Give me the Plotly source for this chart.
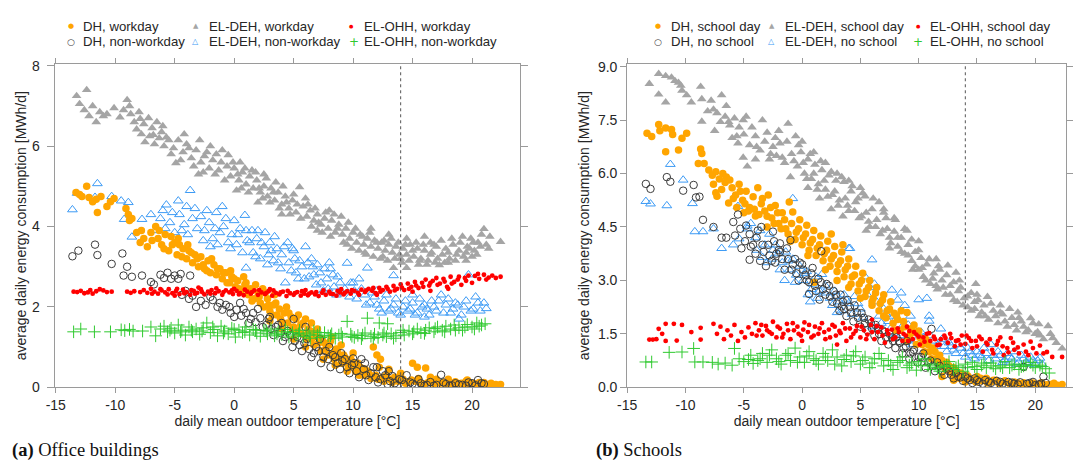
import plotly.graph_objects as go

W, H = 1073, 469

# ---------------- data: (daily mean outdoor temperature [°C], MWh/d) ----------------
# (a) Office buildings
office_dh_work = [(-13.3,4.85),(-13.0,4.8),(-12.4,5.0),(-12.8,4.75),(-12.2,4.72),(-11.9,4.62),(-11.5,4.35),(-11.2,4.75),
    (-11.6,4.68),(-10.7,4.5),(-10.4,4.62),(-10.1,4.7),(-9.1,4.45),(-8.9,4.3),(-8.6,4.2),(-8.8,4.15),(-8.2,3.85),(-7.9,3.6),
    (-7.6,3.7),(-7.3,3.5),(-6.9,3.65),(-6.6,4.0),(-6.3,3.9),(-6.1,3.55),(-5.8,3.8),(-5.5,3.4),(-5.3,3.75),(-5.0,3.6),(-4.8,3.3),
    (-4.6,3.55),(-4.3,3.45),(-4.0,3.2),(-3.8,3.4),(-3.5,3.1),(-3.3,3.3),(-3.0,3.0),(-2.8,3.25),(-2.5,2.95),(-2.2,3.15),(-2.0,2.85),
    (-1.7,3.05),(-1.5,2.8),(-1.2,2.95),(-1.0,2.7),(-0.7,2.85),(-0.4,2.6),(-0.2,2.75),(0.1,2.5),(0.3,2.65),(0.6,2.4),(0.9,2.55),
    (1.2,2.3),(1.4,2.45),(1.7,2.2),(2.0,2.35),(2.2,2.1),(2.5,2.0),(2.8,2.2),(3.0,1.9),(3.3,2.05),(3.6,1.8),(3.9,1.7),(4.2,1.85),
    (4.5,1.6),(4.8,1.75),(5.0,1.5),(5.3,1.4),(5.6,1.55),(5.9,1.3),(6.2,1.45),(6.5,1.2),(6.8,1.3),(7.1,1.1),(7.4,1.2),(7.7,0.95),
    (8.0,1.05),(8.3,0.85),(8.6,0.95),(8.9,0.75),(9.2,0.8),(9.5,0.6),(9.8,0.7),(10.1,0.5),(10.4,0.6),(10.7,0.4),(11.0,0.45),
    (11.3,0.35),(11.7,1.0),(12.0,0.8),(12.3,0.7),(11.9,0.3),(12.5,0.25),(12.8,0.3),(13.1,0.2),(13.5,0.25),(13.8,0.15),(14.2,0.2),
    (14.6,0.12),(15.0,0.6),(15.4,0.5),(16.1,0.48),(15.2,0.15),(15.7,0.1),(16.3,0.12),(16.8,0.08),(17.3,0.1),(17.8,0.07),
    (18.3,0.09),(18.8,0.06),(19.3,0.08),(19.8,0.05),(20.3,0.07),(20.8,0.05),(21.3,0.06),(21.8,0.05),(22.4,0.07),
    (1.0,2.6),(2.4,2.45),(3.4,2.3),(4.4,2.0),(5.4,1.8),(6.0,1.7),(7.0,1.45),(8.2,1.25),(9.0,1.05),(10.0,0.85),(6.5,1.6),
    (3.0,1.65),(4.0,1.45),(5.0,1.2),(6.0,1.0),(7.5,0.7),(8.5,0.55),(9.5,0.4),(10.5,0.3),(11.5,0.22),(12.2,0.5),(13.0,0.45),
    (14.0,0.35),(16.5,0.25),(18.0,0.2),(19.5,0.15),(21.0,0.12),
    (-7.8,3.9),(-7.0,3.85),(-6.4,3.7),(-5.9,3.45),(-5.2,3.55),(-4.7,3.7),(-4.4,3.25),(-3.9,3.55),(-3.6,3.35),(-3.1,3.2),
    (-2.6,3.05),(-2.3,2.9),(-1.9,3.2),(-1.4,2.95),(-0.9,2.85),(-0.6,2.6),(-0.3,2.9),(0.0,2.7),(0.4,2.45),(0.8,2.75),(1.1,2.45),
    (1.5,2.15),(1.8,2.55),(2.1,2.25),(2.6,2.35),(2.9,2.05),(3.2,1.8),(3.5,2.1),(3.8,1.95),(4.1,1.6),(4.6,1.85),(4.9,1.45),
    (5.2,1.7),(5.5,1.35),(5.8,1.6),(6.1,1.2),(6.4,1.4),(6.7,1.05),(7.0,1.25),(7.3,0.9),(7.6,1.1),(7.9,0.8),(8.1,1.15),(8.4,0.7),
    (8.7,0.9),(9.0,0.6),(9.3,0.75),(9.6,0.5),(9.9,0.65),(10.2,0.4),(10.6,0.5),(10.9,0.3),(11.2,0.4),(11.6,0.28),(12.1,0.2),
    (12.6,0.15),(13.3,0.12),(13.9,0.25),(14.4,0.1),(14.9,0.18),(15.5,0.22),(16.0,0.08),(16.6,0.14),(17.0,0.2),(17.6,0.12),
    (18.1,0.06),(18.6,0.14),(19.1,0.1),(19.6,0.18),(20.1,0.1),(20.6,0.12),(21.1,0.08),(21.6,0.1),(22.0,0.07)]

office_dh_nonwork = [(-13.6,3.26),(-13.1,3.4),(-11.7,3.55),(-11.5,3.29),(-10.3,3.07),(-9.4,3.33),(-9.0,3.0),(-9.3,2.78),
    (-8.6,2.75),(-7.75,2.78),(-6.75,2.56),(-7.0,2.62),(-6.2,2.8),(-5.9,2.72),(-5.6,2.85),(-5.3,2.7),(-5.0,2.78),(-4.7,2.7),
    (-4.5,2.82),(-3.7,2.78),(-4.4,2.3),(-4.1,2.4),(-3.8,2.2),(-3.5,2.28),(-3.2,2.0),(-2.8,2.15),(-2.4,2.05),(-1.8,2.17),
    (-1.4,2.0),(-1.0,1.93),(-0.7,2.05),(-0.3,1.85),(0.2,1.93),(0.6,1.78),(1.0,1.85),(1.4,1.7),(1.8,1.62),(2.2,1.72),(2.7,1.55),
    (3.1,1.45),(3.5,1.5),(3.9,1.35),(4.3,1.25),(4.7,1.3),(5.1,1.15),(5.5,1.05),(5.9,1.1),(6.3,0.95),(6.7,0.85),(7.1,0.9),
    (7.5,0.75),(7.9,0.7),(8.3,0.8),(8.7,0.6),(9.1,0.65),(9.5,0.5),(9.9,0.55),(10.3,0.4),(10.7,0.7),(11.1,0.3),(11.5,0.35),
    (11.9,0.25),(12.3,0.2),(12.7,0.3),(13.1,0.15),(13.5,0.1),(13.9,0.2),(14.3,0.07),(14.8,0.12),(15.2,0.05),(15.7,0.1),
    (16.2,0.06),(16.8,0.04),(17.4,0.31),(17.8,0.08),(18.3,0.05),(18.9,0.07),(19.5,0.04),(20.0,0.1),(20.5,0.18),(21.0,0.08),
    (5.0,1.7),(6.0,1.5),(7.2,1.2),(8.0,1.0),(9.0,0.85),(10.0,0.72),(11.0,0.6),(12.0,0.5),(13.0,0.4),(2.0,1.95),(0.5,2.1),
    (3.0,1.75),(4.0,1.6),
    (-2.0,2.25),(-1.2,2.1),(-0.4,2.0),(0.0,1.75),(0.8,1.95),(1.2,1.6),(1.6,1.85),(2.4,1.5),(2.9,1.7),(3.3,1.3),(3.7,1.55),
    (4.1,1.15),(4.5,1.4),(4.9,1.0),(5.3,1.25),(5.7,0.9),(6.1,1.2),(6.5,0.75),(6.9,1.0),(7.3,0.6),(7.7,0.9),(8.1,0.5),(8.5,0.75),
    (8.9,0.45),(9.3,0.7),(9.7,0.35),(10.1,0.6),(10.5,0.25),(10.9,0.45),(11.3,0.18),(11.7,0.5),(12.1,0.12),(12.5,0.4),
    (12.9,0.08),(13.3,0.28),(13.7,0.05),(14.1,0.18),(14.5,0.3),(15.0,0.09),(15.5,0.2),(16.0,0.04),(16.5,0.13),(17.0,0.06),
    (17.6,0.12),(18.1,0.04),(18.6,0.1),(19.2,0.06),(19.7,0.12),(20.3,0.05),(20.8,0.1)]

office_el_deh_work = [(-13.25,7.25),(-12.4,7.4),(-13.0,7.05),(-12.6,6.9),(-12.2,6.75),(-11.9,7.0),(-11.6,6.6),(-11.3,6.85),
    (-11.0,6.75),(-10.7,6.8),(-10.1,6.95),(-9.0,7.15),(-8.8,7.0),(-8.7,6.8),(-8.4,6.6),(-8.0,6.85),(-7.6,6.55),(-7.2,6.7),
    (-6.9,6.45),(-6.5,6.6),(-6.1,6.35),(-7.8,6.3),(-7.5,6.1),(-7.1,6.25),(-6.7,6.05),(-6.3,6.2),(-5.9,6.0),(-5.5,6.15),
    (-5.1,5.95),(-4.9,5.58),(-4.7,6.15),(-4.3,5.85),(-4.0,6.05),(-3.6,5.7),(-3.2,5.9),(-2.8,5.6),(-2.5,5.75),(-2.1,5.45),
    (-1.8,5.65),(-1.3,5.4),(-1.0,5.9),(-0.6,5.5),(-0.3,5.25),(0.0,5.45),(0.4,5.15),(0.7,5.35),(1.0,5.05),(1.3,5.25),(1.6,4.95),
    (1.9,5.15),(2.2,4.85),(2.5,5.0),(2.8,4.75),(3.1,4.95),(3.4,4.65),(3.7,4.85),(4.0,4.55),(4.3,4.75),(4.6,4.45),(4.9,4.65),
    (5.5,4.98),(5.2,4.35),(5.8,4.5),(6.1,4.25),(6.4,4.4),(6.7,4.15),(7.0,4.3),(7.3,4.05),(7.6,4.2),(7.9,3.95),(8.2,4.15),
    (8.5,3.85),(8.8,4.05),(9.1,3.8),(9.4,3.95),(9.7,3.7),(10.0,3.85),(10.3,3.6),(10.6,3.8),(10.9,3.55),(11.2,3.7),(11.5,3.5),
    (11.8,3.65),(12.1,3.45),(12.4,3.6),(12.7,3.4),(13.0,3.55),(13.4,2.97),(13.3,3.35),(13.6,3.5),(13.9,3.3),(14.2,3.45),
    (14.5,2.97),(14.5,3.3),(14.8,3.55),(15.1,3.25),(15.4,3.45),(15.7,3.2),(16.0,3.4),(16.3,3.15),(16.6,3.35),(16.9,3.1),
    (17.25,3.04),(17.5,3.3),(17.8,3.45),(18.1,3.2),(18.4,3.55),(18.7,3.3),(19.0,3.6),(19.3,3.25),(19.6,3.5),(19.9,3.7),
    (20.2,3.4),(20.5,3.6),(20.8,3.8),(21.0,3.94),(21.2,3.55),(21.5,3.75),(22.4,3.62),
    (-2.0,6.0),(-1.5,5.8),(0.5,5.6),(1.5,5.4),(2.5,5.3),(3.5,5.1),(-3.0,5.3),(0.2,4.9),(2.0,4.6),(4.0,4.3),(6.0,4.7),(8.0,4.4),
    (9.0,4.25),(7.0,3.9),(9.5,3.55),(11.0,3.35),(12.5,3.25),(14.0,3.2),(15.5,3.05),(16.5,3.6),(18.0,3.1),(11.5,3.95),
    (13.0,3.8),(14.5,3.7),(16.0,3.75),(17.0,3.5),(19.5,3.35),(20.0,3.25),
    (-9.6,6.72),(-9.3,6.9),(-8.2,6.42),(-7.9,6.68),(-6.8,6.28),(-6.0,6.5),(-5.7,6.22),(-5.3,5.8),(-4.5,5.65),(-4.2,6.3),
    (-3.8,5.95),(-3.4,5.5),(-2.9,6.15),(-2.6,5.35),(-2.3,5.85),(-1.6,5.3),(-1.1,5.6),(-0.8,5.15),(-0.5,5.78),(-0.1,5.6),
    (0.3,5.3),(0.6,4.95),(0.9,5.45),(1.2,4.85),(1.8,5.35),(2.1,4.95),(2.4,4.7),(2.7,5.2),(3.0,4.6),(3.3,4.85),(3.8,4.45),
    (4.1,5.0),(4.4,4.6),(4.7,4.3),(5.0,4.8),(5.3,4.55),(5.6,4.2),(6.2,4.55),(6.5,4.0),(6.8,4.45),(7.1,4.1),(7.4,3.85),(7.7,4.35),
    (8.1,3.75),(8.4,4.3),(8.7,3.95),(9.2,3.6),(9.6,4.1),(9.9,3.45),(10.2,3.95),(10.5,3.4),(10.8,3.75),(11.1,3.3),(11.4,3.85),
    (11.7,3.25),(12.0,3.6),(12.3,3.2),(12.6,3.65),(12.9,3.15),(13.2,3.7),(13.5,3.2),(13.8,3.6),(14.1,3.1),(14.4,3.55),
    (14.7,3.15),(15.0,3.4),(15.3,3.6),(15.6,3.15),(15.9,3.55),(16.2,3.05),(16.5,3.3),(16.8,3.55),(17.1,3.2),(17.4,3.65),
    (17.7,3.1),(18.0,3.35),(18.3,3.7),(18.6,3.15),(18.9,3.4),(19.2,3.75),(19.5,3.15),(19.8,3.45),(20.1,3.6),(20.4,3.3),
    (20.7,3.5),(21.4,3.45)]

office_el_deh_nonwork = [(-13.6,4.42),(-13.2,4.83),(-11.5,5.07),(-11.7,4.73),(-10.3,4.75),(-9.5,4.64),(-8.9,4.6),(-9.25,4.18),
    (-8.6,3.74),(-7.75,4.18),(-5.7,4.54),(-4.7,4.64),(-3.7,4.9),(-6.2,4.2),(-5.8,3.95),(-5.4,4.1),(-5.0,3.85),(-4.6,4.3),
    (-4.2,4.05),(-3.9,3.8),(-3.5,4.2),(-3.1,3.95),(-2.8,4.25),(-2.5,3.9),(-2.1,4.1),(-1.8,3.7),(-1.5,4.35),(-1.2,3.85),
    (-0.9,4.0),(-0.5,3.6),(-0.2,3.8),(0.2,3.55),(0.5,3.95),(0.9,4.28),(1.0,2.97),(1.3,3.6),(1.6,3.35),(1.9,3.7),(2.2,3.2),
    (2.5,3.5),(2.8,3.05),(3.1,3.4),(3.4,3.75),(3.7,3.1),(4.0,3.3),(4.3,2.6),(4.5,3.6),(4.8,2.9),(5.1,3.2),(5.4,2.7),(5.7,3.0),
    (6.0,3.5),(6.3,2.75),(6.6,3.0),(6.9,2.55),(7.2,2.85),(7.5,2.4),(7.8,2.7),(8.1,2.95),(8.4,2.5),(8.7,2.75),(9.0,2.35),
    (9.5,3.09),(9.8,2.6),(10.1,2.4),(10.5,2.7),(11.2,2.97),(11.0,2.3),(11.4,2.1),(11.8,2.25),(12.2,1.95),(12.6,2.15),(13.0,1.9),
    (13.4,2.78),(13.4,2.05),(13.8,1.85),(14.2,2.0),(14.6,1.9),(15.0,2.1),(15.4,1.85),(15.8,2.0),(16.2,1.95),(16.6,2.15),
    (17.0,1.9),(17.4,2.3),(17.8,2.05),(18.2,1.85),(18.6,2.1),(18.9,1.7),(19.3,2.0),(19.7,2.8),(20.1,1.95),(20.5,2.1),(21.0,2.1),
    (21.2,1.96),(-7.0,4.3),(-6.5,3.9),(-2.0,3.5),(0.0,4.15),(2.0,3.9),(3.0,3.6),(5.0,3.4),(6.5,3.2),(8.0,3.1),(-4.0,4.5),
    (-1.0,4.5),(1.0,3.9),(12.0,2.4),(15.0,2.3),(16.0,1.75),
    (-6.0,4.4),(-5.2,4.35),(-4.4,3.9),(-3.3,4.45),(-2.6,3.65),(-2.3,4.4),(-1.6,3.95),(-1.4,3.55),(-0.7,4.2),(-0.3,3.45),
    (0.3,3.8),(0.7,3.35),(1.1,3.65),(1.5,3.9),(1.8,3.25),(2.3,3.6),(2.6,3.85),(2.9,3.3),(3.3,3.15),(3.6,3.45),(3.9,2.95),
    (4.2,3.5),(4.6,3.1),(4.9,3.45),(5.2,2.85),(5.5,3.15),(5.9,2.7),(6.2,3.1),(6.7,2.8),(7.0,3.05),(7.3,2.6),(7.6,2.95),
    (7.9,2.45),(8.3,2.8),(8.6,2.3),(8.9,2.6),(9.3,2.45),(9.7,2.25),(10.0,2.6),(10.3,2.2),(10.7,2.45),(11.1,2.05),(11.6,2.35),
    (12.0,2.05),(12.4,1.85),(12.8,2.3),(13.2,1.95),(13.6,2.2),(14.0,1.8),(14.4,2.15),(14.8,1.95),(15.2,1.8),(15.6,2.2),
    (16.0,2.05),(16.4,1.8),(16.8,2.0),(17.2,2.15),(17.6,1.85),(18.0,2.2),(18.4,1.95),(18.8,2.05),(19.1,1.8),(19.5,2.15),
    (19.9,1.9),(20.3,2.25),(20.7,1.9)]

office_el_ohh_work = [(-13.5,2.38),(-13.2,2.37),(-12.9,2.4),(-12.6,2.34),(-12.3,2.36),(-12.1,2.42),(-11.9,2.33),(-11.6,2.39),
    (-11.3,2.44),(-11.0,2.41),(-10.7,2.37),(-10.3,2.38),(-9.0,2.38),(-8.7,2.35),(-8.4,2.39),(-7.9,2.37),(-7.6,2.42),(-7.3,2.35),
    (-7.0,2.45),(-6.7,2.38),(-6.4,2.33),(-6.1,2.41),(-5.8,2.36),(-5.5,2.44),(-5.2,2.34),(-4.9,2.39),(-4.6,2.32),(-4.3,2.43),
    (-4.0,2.37),(-3.7,2.3),(-3.4,2.4),(-3.1,2.35),(-2.8,2.44),(-2.5,2.31),(-2.2,2.38),(-1.9,2.42),(-1.6,2.34),(-1.3,2.39),
    (-1.0,2.3),(-0.7,2.41),(-0.4,2.36),(-0.1,2.32),(0.2,2.4),(0.5,2.34),(0.8,2.29),(1.1,2.38),(1.4,2.33),(1.7,2.41),(2.0,2.3),
    (2.3,2.36),(2.6,2.32),(2.9,2.39),(3.2,2.28),(3.5,2.35),(3.8,2.31),(4.1,2.38),(4.4,2.27),(4.7,2.34),(5.0,2.3),(5.3,2.37),
    (5.6,2.28),(5.9,2.33),(6.2,2.29),(6.5,2.36),(6.8,2.31),(7.1,2.27),(7.4,2.35),(7.7,2.3),(8.0,2.38),(8.3,2.32),(8.6,2.28),
    (8.9,2.36),(9.2,2.31),(9.5,2.39),(9.8,2.33),(10.1,2.4),(10.4,2.35),(10.7,2.43),(11.0,2.37),(11.3,2.45),(11.6,2.4),
    (11.9,2.34),(12.2,2.47),(12.5,2.42),(12.8,2.5),(13.1,2.38),(13.4,2.52),(13.7,2.45),(14.0,2.56),(14.3,2.42),(14.6,2.58),
    (14.9,2.5),(15.2,2.62),(15.5,2.47),(15.8,2.6),(16.1,2.68),(16.4,2.53),(16.7,2.65),(17.0,2.72),(17.3,2.58),(17.6,2.7),
    (17.9,2.5),(18.2,2.75),(18.5,2.62),(18.8,2.68),(19.1,2.55),(19.4,2.72),(19.7,2.78),(20.0,2.6),(20.25,2.77),(20.6,2.7),
    (21.0,2.8),(21.4,2.73),(22.4,2.75),(-5.0,2.28),(-3.0,2.48),(0.0,2.45),(3.0,2.44),(6.0,2.42),(9.0,2.44),(12.0,2.3),
    (15.0,2.38),(16.5,2.4),(18.0,2.45),
    (-6.9,2.33),(-6.2,2.44),(-5.6,2.31),(-4.8,2.45),(-4.2,2.34),(-3.6,2.42),(-3.3,2.33),(-2.7,2.37),(-2.0,2.33),(-1.5,2.46),
    (-0.9,2.37),(-0.2,2.41),(0.4,2.31),(0.9,2.43),(1.5,2.37),(2.1,2.42),(2.7,2.35),(3.3,2.41),(3.9,2.36),(4.5,2.4),(5.1,2.34),
    (5.7,2.39),(6.3,2.33),(6.9,2.37),(7.5,2.41),(8.1,2.33),(8.7,2.4),(9.3,2.35),(9.9,2.42),(10.5,2.3),(11.1,2.41),(11.7,2.47),
    (12.3,2.38),(12.9,2.45),(13.5,2.41),(14.1,2.48),(14.7,2.45),(15.3,2.53),(15.9,2.5),(16.5,2.6),(17.1,2.55),(17.7,2.63),
    (18.3,2.58),(18.9,2.75),(19.5,2.65),(20.5,2.82),(21.2,2.68),(21.7,2.78),(22.0,2.72)]

office_el_ohh_nonwork = [(-13.5,1.38),(-12.9,1.45),(-11.75,1.38),(-10.4,1.38),(-9.5,1.43),(-9.2,1.41),(-8.8,1.44),(-8.5,1.4),
    (-7.7,1.4),(-7.0,1.5),(-6.6,1.28),(-6.2,1.45),(-5.9,1.52),(-5.6,1.38),(-5.3,1.47),(-5.0,1.35),(-4.7,1.55),(-4.4,1.42),
    (-4.1,1.3),(-3.8,1.5),(-3.5,1.38),(-3.2,1.45),(-2.9,1.32),(-2.6,1.48),(-2.3,1.6),(-2.0,1.36),(-1.7,1.44),(-1.4,1.28),
    (-1.1,1.52),(-0.8,1.4),(-0.5,1.33),(-0.2,1.47),(0.1,1.25),(0.4,1.42),(0.7,1.36),(1.0,1.5),(1.3,1.3),(1.6,1.44),(1.9,1.35),
    (2.2,1.27),(2.5,1.42),(2.8,1.33),(3.1,1.45),(3.4,1.28),(3.7,1.38),(4.0,1.31),(4.3,1.44),(4.6,1.25),(4.9,1.36),(5.2,1.3),
    (5.5,1.42),(5.8,1.26),(6.1,1.35),(6.4,1.22),(6.7,1.4),(7.0,1.3),(7.3,1.24),(7.6,1.36),(7.9,1.28),(8.2,1.33),(8.5,1.22),
    (8.8,1.3),(9.1,1.25),(9.5,1.64),(9.8,1.32),(10.1,1.24),(10.4,1.29),(10.7,1.21),(11.0,1.35),(11.2,1.72),(11.5,1.27),
    (11.8,1.32),(12.2,1.6),(12.1,1.24),(12.5,1.3),(12.9,1.58),(12.8,1.26),(13.2,1.33),(13.6,1.28),(14.0,1.36),(14.3,1.3),
    (14.7,1.4),(15.0,1.33),(15.4,1.45),(15.7,1.36),(16.1,1.42),(16.4,1.48),(16.8,1.38),(17.1,1.5),(17.5,1.42),(17.8,1.52),
    (18.2,1.45),(18.5,1.55),(18.9,1.48),(19.2,1.42),(19.6,1.56),(20.0,1.5),(20.4,1.6),(20.8,1.55),(21.1,1.58),
    (-5.4,1.42),(-4.5,1.38),(-3.6,1.42),(-2.7,1.4),(-1.8,1.5),(-0.9,1.35),(0.0,1.44),(0.9,1.38),(1.8,1.42),(2.7,1.4),
    (3.6,1.33),(4.5,1.38),(5.4,1.33),(6.3,1.3),(7.2,1.36),(8.1,1.28),(9.0,1.34),(9.9,1.27),(10.8,1.3),(11.7,1.22),(12.6,1.35),
    (13.4,1.22),(14.2,1.42),(15.1,1.38),(16.0,1.34),(16.9,1.46),(17.7,1.38),(18.6,1.42),(19.4,1.5),(20.2,1.45),(20.6,1.52)]

# (b) Schools
school_dh_day = [(-13.3,7.13),(-12.9,7.04),(-12.3,7.38),(-12.2,7.2),(-11.7,7.28),(-11.2,7.24),(-11.1,7.1),(-10.3,6.99),
    (-9.9,7.13),(-11.7,6.61),(-10.6,6.66),(-8.7,6.69),(-8.6,6.56),(-8.9,6.28),(-8.4,6.28),(-8.0,6.1),(-7.7,5.95),(-7.4,6.05),
    (-7.1,5.85),(-6.8,6.0),(-6.5,5.9),(-6.2,5.82),(-7.4,5.46),(-7.3,5.36),(-6.3,5.17),(-6.0,5.6),(-5.7,5.4),(-5.4,5.7),
    (-5.1,5.25),(-4.8,5.5),(-4.5,5.05),(-4.2,5.35),(-4.0,4.81),(-3.8,5.6),(-3.5,5.15),(-3.2,4.95),(-2.9,5.4),(-2.6,4.75),
    (-2.3,5.1),(-2.0,4.6),(-1.7,4.9),(-1.4,4.45),(-1.1,5.2),(-0.8,4.92),(-0.5,4.35),(-0.2,4.7),(0.1,4.2),(0.4,4.55),(0.7,4.05),
    (1.0,4.4),(1.3,3.9),(1.6,4.25),(1.9,3.75),(2.2,4.1),(2.5,3.6),(2.8,3.95),(3.1,3.45),(3.4,3.8),(3.7,3.3),(4.0,3.6),(4.3,3.1),
    (4.6,3.4),(4.9,2.9),(5.2,3.2),(5.5,2.7),(5.8,3.0),(6.1,2.5),(6.4,2.8),(6.7,2.35),(7.0,2.6),(7.3,2.15),(7.6,2.4),(7.9,2.08),
    (8.2,1.9),(8.5,2.15),(8.8,1.7),(9.0,2.1),(9.3,1.5),(9.6,1.75),(10.0,1.58),(10.3,1.2),(10.6,1.35),(10.9,1.0),(11.2,1.1),
    (11.5,0.8),(11.8,0.9),(12.1,0.6),(12.4,0.7),(12.7,0.45),(13.0,0.55),(13.3,0.35),(13.6,0.4),(13.9,0.28),(14.2,0.32),
    (14.6,0.22),(15.0,0.3),(15.4,0.18),(15.8,0.25),(16.2,0.15),(16.6,0.2),(17.0,0.13),(17.4,0.18),(17.8,0.1),(18.2,0.15),
    (18.6,0.1),(19.0,0.13),(19.4,0.08),(19.8,0.12),(20.2,0.08),(20.6,0.1),(21.0,0.07),(21.6,0.11),(22.3,0.08),(1.05,2.95),
    (2.0,3.3),(3.0,3.0),(4.0,2.8),(5.0,2.5),(6.0,2.3),(7.0,2.0),(8.0,1.6),(9.0,1.3),(-3.0,4.5),(-1.0,4.1),(0.5,3.7),(2.5,4.3),
    (3.5,4.0),(-5.0,4.9),(12.0,0.3),(13.0,0.2),(14.0,0.15),
    (-7.6,5.7),(-6.9,5.55),(-6.6,5.75),(-5.9,5.3),(-5.6,5.05),(-5.3,5.5),(-4.9,5.15),(-4.6,4.95),(-4.1,5.0),(-3.7,4.85),
    (-3.4,5.3),(-3.0,4.8),(-2.7,5.05),(-2.4,4.6),(-2.1,4.9),(-1.8,4.45),(-1.5,4.7),(-1.2,4.3),(-0.9,4.6),(-0.6,4.15),(-0.3,4.45),
    (0.0,4.0),(0.3,4.3),(0.6,3.85),(0.9,4.15),(1.2,3.7),(1.5,4.0),(1.8,3.55),(2.1,3.85),(2.4,3.4),(2.7,3.7),(3.0,3.25),
    (3.3,3.55),(3.6,3.1),(3.9,3.4),(4.2,2.9),(4.5,3.15),(4.8,2.7),(5.1,3.0),(5.4,2.55),(5.7,2.8),(6.0,2.4),(6.3,2.65),(6.6,2.15),
    (6.9,2.45),(7.2,1.95),(7.5,2.2),(7.8,1.8),(8.1,2.0),(8.4,1.6),(8.7,1.85),(9.1,1.4),(9.4,1.65),(9.8,1.2),(10.1,1.4),(10.5,1.0),
    (10.8,1.2),(11.1,0.8),(11.4,1.0),(11.7,0.65),(12.0,0.75),(12.3,0.5),(12.6,0.6),(12.9,0.35),(13.2,0.45),(13.5,0.25),
    (13.8,0.35),(14.4,0.25),(14.9,0.15),(15.3,0.25),(15.9,0.12),(16.4,0.2),(16.9,0.1),(17.5,0.15),(18.0,0.08),(18.5,0.13),
    (19.1,0.06),(19.6,0.1),(20.0,0.05),(20.5,0.13),(21.3,0.08),(21.9,0.06)]

school_dh_noschool = [(-13.4,5.71),(-13.0,5.57),(-11.6,5.9),(-11.3,5.77),(-10.2,5.52),(-9.3,5.68),(-9.1,5.33),(-8.8,5.35),
    (-8.5,4.7),(-7.6,4.5),(-6.9,4.2),(-6.5,4.2),(-5.9,4.64),(-5.75,4.26),(-5.5,4.85),(-5.3,4.45),(-4.8,4.54),(-4.5,4.3),
    (-4.2,4.0),(-3.8,4.4),(-3.5,4.5),(-3.4,4.0),(-2.5,4.37),(-2.4,4.1),(-1.9,4.04),(-1.0,4.13),(-1.9,3.8),(1.65,3.82),
    (-4.5,3.58),(-3.6,3.55),(-3.1,3.4),(-5.2,3.9),(-4.0,3.75),(-2.8,3.7),(-2.3,3.5),(-2.0,3.85),(-1.5,3.3),(-1.2,3.6),
    (-0.8,3.45),(-0.5,3.2),(-0.2,3.5),(0.1,3.3),(0.4,3.0),(0.6,2.62),(0.8,3.2),(1.1,2.85),(1.5,2.46),(1.4,3.05),(1.8,2.75),
    (2.1,2.9),(2.4,2.55),(2.7,2.7),(3.0,2.35),(3.3,2.6),(3.6,2.2),(3.4,2.27),(3.9,2.45),(4.2,2.1),(4.5,2.3),(4.8,1.95),
    (5.1,2.08),(5.4,1.8),(5.7,1.9),(6.0,1.65),(6.3,1.75),(6.6,1.5),(6.9,1.6),(7.2,1.4),(7.5,1.5),(7.8,1.3),(8.1,1.4),(8.4,1.25),
    (8.7,1.1),(9.0,1.3),(9.3,0.95),(9.6,1.05),(10.0,0.85),(10.4,0.95),(10.8,0.7),(11.1,1.64),(11.2,0.6),(11.6,0.7),(12.0,0.45),
    (12.4,0.55),(12.8,0.35),(13.2,0.4),(13.6,0.28),(14.0,0.3),(14.4,0.2),(14.8,0.25),(15.2,0.15),(15.7,0.2),(16.2,0.12),
    (16.7,0.18),(17.2,0.1),(17.7,0.15),(18.2,0.1),(18.7,0.14),(19.0,0.57),(19.3,0.1),(19.8,0.15),(20.3,0.08),(20.7,0.3),
    (20.9,0.12),
    (-4.9,4.1),(-4.4,3.95),(-3.9,4.2),(-3.3,3.8),(-2.9,4.0),(-2.6,3.55),(-2.2,3.75),(-1.7,3.6),(-1.3,3.9),(-0.9,3.3),(-0.6,3.6),
    (-0.3,3.0),(0.0,3.45),(0.3,3.15),(0.6,2.95),(0.9,3.35),(1.2,2.7),(1.6,2.95),(2.0,2.6),(2.3,2.85),(2.6,2.4),(2.9,2.6),
    (3.2,2.15),(3.5,2.4),(3.8,2.0),(4.1,2.25),(4.4,1.85),(4.7,2.1),(5.0,1.7),(5.3,1.95),(5.6,1.6),(5.9,1.8),(6.2,1.45),
    (6.5,1.65),(6.8,1.3),(7.1,1.55),(7.4,1.2),(7.7,1.4),(8.0,1.1),(8.3,1.3),(8.6,0.95),(8.9,1.15),(9.2,0.8),(9.5,1.0),(9.9,0.7),
    (10.2,0.85),(10.6,0.55),(11.0,0.75),(11.4,0.45),(11.8,0.6),(12.2,0.35),(12.6,0.45),(13.0,0.25),(13.4,0.3),(13.8,0.18),
    (14.2,0.25),(14.6,0.12),(15.0,0.2),(15.5,0.1),(16.0,0.16),(16.5,0.08),(17.0,0.15),(17.5,0.06),(18.0,0.13),(18.5,0.08),
    (19.5,0.12),(20.0,0.06),(20.5,0.1)]

school_el_deh_day = [(-13.1,8.52),(-12.3,8.8),(-11.7,8.74),(-12.3,8.22),(-11.7,8.0),(-11.2,8.7),(-10.9,8.6),(-10.6,8.55),
    (-10.4,8.47),(-10.3,8.33),(-9.9,8.2),(-8.7,8.44),(-8.6,8.09),(-8.6,7.46),(-7.6,7.8),(-6.9,8.2),(-6.5,7.9),(-7.3,7.7),
    (-7.0,7.45),(-6.6,7.6),(-6.2,7.35),(-5.8,7.55),(-5.4,7.3),(-5.05,7.5),(-4.8,7.6),(-3.4,7.5),(-5.05,6.45),(-4.7,6.2),
    (-6.0,7.0),(-5.5,6.85),(-5.0,7.1),(-4.5,6.8),(-4.0,7.05),(-3.6,6.65),(-3.2,6.9),(-2.8,6.4),(-2.5,6.75),(-2.2,6.5),
    (-1.9,6.85),(-1.5,6.3),(-1.2,7.4),(-0.9,6.55),(-0.55,7.05),(-0.4,6.2),(-0.1,6.6),(0.2,6.0),(0.5,6.4),(0.8,5.85),(1.1,6.25),
    (1.4,5.7),(1.7,6.1),(2.0,5.55),(2.3,5.95),(2.6,5.4),(2.9,5.8),(3.2,5.25),(3.6,5.77),(3.9,5.1),(4.2,5.5),(4.5,4.95),(4.8,5.3),
    (5.1,4.8),(5.4,5.36),(5.7,4.65),(6.0,5.0),(6.3,4.5),(6.6,5.2),(6.9,4.4),(7.2,4.75),(7.5,4.2),(7.9,4.37),(8.2,3.95),(8.5,4.2),
    (8.8,3.75),(9.1,4.0),(9.4,3.55),(9.7,3.8),(10.2,3.63),(10.0,3.3),(10.4,3.1),(10.7,3.45),(11.0,2.9),(11.3,3.2),(11.7,3.4),
    (11.6,2.75),(12.0,3.0),(12.5,3.42),(12.3,2.6),(12.7,2.85),(13.2,3.22),(13.0,2.45),(13.4,2.7),(13.8,2.3),(14.2,2.55),
    (14.5,2.15),(14.9,2.9),(14.8,2.4),(15.2,2.0),(15.6,2.3),(15.9,2.54),(16.0,1.9),(16.4,2.15),(16.8,1.8),(17.2,2.05),(17.6,1.7),
    (18.0,1.95),(18.4,1.6),(18.8,1.85),(19.2,1.55),(19.6,1.94),(20.0,1.5),(20.3,1.77),(20.4,1.46),(21.1,1.72),(21.5,1.38),
    (22.3,1.09),(-2.0,7.2),(0.0,6.9),(1.0,6.6),(2.0,6.3),(3.0,6.0),(4.0,5.8),(5.0,5.6),(7.0,5.0),(8.0,4.7),(9.0,4.4),(10.0,4.1),
    (1.5,5.3),(3.5,4.8),(5.5,4.4),(7.5,3.9),(9.5,3.3),(11.5,3.6),(13.5,3.0),(15.0,2.6),(17.0,2.3),(18.5,2.1),(-7.5,7.2),
    (-4.0,6.4),(-1.0,5.9),(0.5,5.6),(2.5,5.0),
    (-9.5,8.0),(-8.1,7.75),(-7.8,8.05),(-6.3,7.45),(-5.6,7.05),(-4.3,7.3),(-3.9,6.75),(-3.0,7.15),(-2.7,6.55),(-2.3,7.0),
    (-1.7,6.45),(-1.3,6.9),(-0.7,6.35),(-0.3,6.8),(0.1,6.3),(0.4,5.85),(0.7,6.55),(1.0,6.0),(1.3,5.55),(1.6,6.35),(1.9,5.8),
    (2.2,5.35),(2.5,6.05),(2.8,5.5),(3.1,5.1),(3.4,5.9),(3.7,5.3),(4.0,4.95),(4.3,5.65),(4.6,5.2),(4.9,4.75),(5.2,5.45),(5.5,4.9),
    (5.8,4.5),(6.1,5.3),(6.4,4.7),(6.7,4.3),(7.0,4.9),(7.3,4.45),(7.6,4.05),(7.9,4.75),(8.2,4.2),(8.5,3.8),(8.8,4.45),(9.1,3.7),
    (9.4,4.15),(9.7,3.4),(10.0,3.85),(10.3,3.35),(10.6,3.0),(10.9,3.6),(11.2,3.05),(11.5,2.85),(11.8,3.3),(12.1,2.8),(12.4,3.15),
    (12.7,2.6),(13.0,2.95),(13.3,2.4),(13.6,2.8),(13.9,2.5),(14.2,2.25),(14.5,2.65),(14.8,2.2),(15.1,2.45),(15.4,2.1),(15.7,2.0),
    (16.2,2.35),(16.6,2.0),(17.0,2.1),(17.4,1.85),(17.8,2.2),(18.2,1.75),(18.6,1.95),(19.0,1.7),(19.4,1.6),(19.8,1.8),(20.2,1.55),
    (20.7,1.35),(21.3,1.5),(21.8,1.25)]

school_el_deh_noschool = [(-13.4,5.22),(-13.0,5.15),(-11.6,5.1),(-11.3,6.26),(-10.2,5.82),(-9.4,5.16),(-9.2,4.37),(-8.5,4.37),
    (-7.6,4.45),(-6.9,3.9),(-5.9,4.0),(-5.5,5.08),(-0.8,5.3),(-4.7,4.45),(-5.4,4.17),(-4.7,4.53),(-4.4,4.6),(-4.0,4.2),
    (-3.6,4.4),(-3.2,4.0),(-2.8,4.3),(-2.6,3.6),(-2.3,4.0),(-2.0,3.75),(-1.7,3.5),(-1.4,3.8),(-1.1,3.3),(-0.8,3.6),(-0.5,3.15),
    (-0.2,3.4),(0.1,3.0),(0.4,3.25),(0.7,2.4),(0.9,2.9),(1.2,3.1),(1.7,3.17),(1.5,2.7),(2.0,2.85),(2.4,2.5),(2.8,2.7),(3.2,2.4),
    (3.6,2.6),(4.0,3.9),(4.1,3.9),(4.0,2.35),(4.5,2.55),(5.0,2.2),(5.4,3.1),(5.8,2.8),(6.0,3.58),(6.2,2.9),(6.6,2.0),(7.0,2.2),
    (7.4,1.85),(7.7,2.73),(7.8,2.0),(8.2,2.45),(8.5,2.65),(8.8,2.3),(9.1,1.75),(9.5,1.6),(10.0,2.46),(10.4,1.4),(10.7,2.5),
    (10.9,2.0),(10.9,1.86),(11.3,1.3),(11.9,1.64),(12.2,1.15),(12.6,1.25),(13.0,1.05),(13.4,1.2),(13.8,0.95),(14.2,1.1),
    (14.6,0.9),(15.0,1.0),(15.4,0.85),(15.8,0.95),(16.2,1.2),(16.6,0.8),(17.0,0.9),(17.4,0.75),(17.8,0.85),(18.2,1.0),
    (18.6,0.7),(19.0,0.8),(19.4,0.65),(19.8,0.75),(20.4,0.82),(20.6,0.64),(-3.0,3.5),(-1.5,3.0),(0.5,2.6),(3.0,2.1),(6.0,1.7),
    (8.0,1.5),(9.5,1.2),
    (-3.9,3.85),(-3.4,3.65),(-2.5,3.85),(-1.9,3.3),(-1.2,3.55),(-0.6,2.95),(0.2,3.2),(0.8,2.75),(1.3,2.5),(1.9,2.65),(2.6,2.3),
    (3.0,2.55),(3.4,2.15),(3.8,2.45),(4.3,2.05),(4.8,2.35),(5.2,1.95),(5.6,2.6),(6.4,2.4),(6.8,1.8),(7.2,2.05),(7.6,1.65),
    (8.0,1.9),(8.4,1.45),(8.7,1.75),(9.0,1.35),(9.3,2.0),(9.8,1.3),(10.2,1.55),(10.6,1.2),(11.0,1.45),(11.5,1.15),(12.0,1.35),
    (12.4,1.0),(12.8,1.15),(13.2,0.95),(13.6,1.1),(14.0,0.85),(14.4,1.0),(14.8,0.8),(15.2,0.9),(15.6,1.1),(16.0,0.75),
    (16.4,0.9),(16.8,1.0),(17.2,0.7),(17.6,0.95),(18.0,0.8),(18.4,0.65),(18.8,0.9),(19.2,0.7),(19.6,0.85),(20.0,0.65),(20.2,0.75)]

school_el_ohh_day = [(-13.1,1.34),(-12.8,1.34),(-12.5,1.35),(-12.3,1.64),(-11.7,1.78),(-11.7,1.3),(-11.0,1.78),(-10.75,1.31),
    (-10.3,1.75),(-8.7,1.67),(-8.7,1.34),(-7.6,1.78),(-7.3,1.5),(-7.0,1.7),(-6.7,1.35),(-6.4,1.6),(-6.1,1.45),(-5.8,1.75),
    (-5.5,1.3),(-5.2,1.55),(-4.9,1.4),(-4.6,1.68),(-4.3,1.5),(-4.0,1.8),(-3.7,1.6),(-3.4,1.45),(-3.1,1.72),(-2.8,1.55),
    (-2.5,1.84),(-2.2,1.4),(-1.9,1.65),(-1.6,1.5),(-1.3,1.78),(-1.0,1.35),(-0.7,1.6),(-0.4,1.7),(-0.1,1.45),(0.2,1.82),
    (0.5,1.55),(0.8,1.4),(1.1,1.7),(1.4,1.5),(1.7,1.8),(2.0,1.35),(2.3,1.62),(2.6,1.75),(2.9,1.45),(3.2,1.58),(3.5,1.8),
    (3.8,1.3),(4.1,1.65),(4.4,1.5),(4.7,1.72),(5.0,1.4),(5.3,1.6),(5.6,1.48),(5.9,1.75),(6.2,1.35),(6.5,1.55),(6.8,1.68),
    (7.1,1.25),(7.4,1.5),(7.7,1.62),(8.0,1.4),(8.3,1.55),(8.6,1.3),(8.9,1.45),(9.2,1.58),(9.5,1.35),(9.8,1.48),(10.1,1.2),
    (10.4,1.4),(10.7,1.5),(11.0,1.3),(11.3,1.42),(11.6,1.18),(11.9,1.35),(12.2,1.45),(12.5,1.25),(12.8,1.38),(13.1,1.15),
    (13.4,1.32),(13.7,1.45),(14.0,1.22),(14.3,1.38),(14.6,1.1),(14.9,1.3),(15.2,1.42),(15.5,1.0),(15.8,1.25),(16.1,1.35),
    (16.4,0.95),(16.7,1.2),(17.0,1.4),(17.3,0.9),(17.6,1.1),(17.9,1.38),(18.2,1.05),(18.6,0.95),(19.0,1.2),(19.4,0.9),
    (19.8,1.1),(20.4,1.17),(20.7,0.95),(21.0,0.99),(21.45,0.85),(22.3,0.85),(-9.5,1.55),(-12.0,1.5),(3.0,1.2),(6.0,1.9),
    (9.0,1.7),(0.0,1.3),
    (-3.9,1.45),(-3.5,1.75),(-3.0,1.6),(-2.6,1.5),(-2.1,1.7),(-1.7,1.4),(-1.2,1.6),(-0.8,1.8),(-0.3,1.5),(0.1,1.62),(0.6,1.75),
    (1.0,1.45),(1.5,1.65),(1.9,1.55),(2.4,1.4),(2.8,1.7),(3.3,1.52),(3.7,1.65),(4.2,1.4),(4.6,1.58),(5.1,1.7),(5.5,1.35),
    (6.0,1.55),(6.4,1.72),(6.9,1.45),(7.3,1.6),(7.8,1.35),(8.2,1.65),(8.7,1.5),(9.1,1.3),(9.6,1.55),(10.0,1.42),(10.5,1.28),
    (10.9,1.52),(11.4,1.35),(11.8,1.2),(12.3,1.38),(12.7,1.5),(13.2,1.3),(13.6,1.2),(14.1,1.45),(14.5,1.3),(15.0,1.15),
    (15.4,1.35),(15.9,1.2),(16.3,1.05),(16.8,1.3),(17.2,1.15),(17.7,0.98),(18.1,1.25),(18.5,1.12),(19.2,1.0),(19.6,1.28),
    (20.1,0.95)]

school_el_ohh_noschool = [(-13.4,0.71),(-12.9,0.71),(-11.4,0.98),(-10.3,0.99),(-9.3,1.09),(-9.2,0.71),(-8.5,0.71),(-7.7,0.7),
    (-7.2,0.65),(-6.6,0.68),(-6.0,0.62),(-5.8,1.09),(-5.4,0.8),(-5.0,0.72),(-4.6,0.78),(-4.2,0.67),(-3.8,0.75),(-3.4,0.95),
    (-3.0,0.7),(-2.6,1.05),(-2.2,0.8),(-1.8,0.65),(-1.4,0.9),(-1.0,0.75),(-0.6,1.1),(-0.2,0.85),(0.2,0.7),(0.6,1.0),(1.0,0.8),
    (1.4,0.65),(1.8,0.95),(2.2,0.75),(2.6,1.05),(3.0,0.85),(3.4,0.6),(3.8,0.9),(4.2,0.72),(4.6,1.0),(5.0,0.65),(5.4,0.85),
    (5.8,0.55),(6.2,0.8),(6.6,0.95),(7.0,0.6),(7.4,0.75),(7.8,0.5),(8.2,0.7),(8.6,0.85),(9.0,0.55),(9.4,0.68),(9.8,0.48),
    (10.2,0.62),(10.6,0.8),(11.0,0.5),(11.4,0.65),(11.8,0.45),(12.2,0.58),(12.6,0.72),(13.0,0.5),(13.4,0.6),(13.8,0.45),
    (14.2,0.55),(14.6,0.7),(15.0,0.5),(15.4,0.62),(15.8,0.55),(16.2,0.68),(16.6,0.52),(17.0,0.6),(17.4,0.72),(17.8,0.55),
    (18.2,0.65),(18.6,0.5),(19.0,0.6),(19.2,0.63),(19.6,0.7),(20.0,0.55),(20.4,0.62),(20.9,0.52),(21.2,0.4),
    (-4.4,0.9),(-3.6,0.8),(-2.8,0.9),(-2.0,0.72),(-1.2,0.95),(-0.4,0.7),(0.4,0.88),(1.2,0.75),(2.0,0.85),(2.8,0.65),(3.6,0.78),
    (4.4,0.88),(5.2,0.75),(6.0,0.68),(6.8,0.8),(7.6,0.62),(8.4,0.75),(9.2,0.62),(10.0,0.72),(10.8,0.6),(11.6,0.55),(12.4,0.62),
    (13.2,0.55),(14.0,0.65),(14.8,0.58),(15.6,0.68),(16.4,0.6),(17.2,0.55),(18.0,0.62),(18.8,0.58),(19.8,0.62),(20.6,0.58)]

x_ticks = [-15, -10, -5, 0, 5, 10, 15, 20]
x_tick_labels = ["-15", "-10", "-5", "0", "5", "10", "15", "20"]
office_y_ticks = [0, 2, 4, 6, 8]
school_y_ticks = [0.0, 1.5, 3.0, 4.5, 6.0, 7.5, 9.0]
threshold_temp = 14

office_names = ["DH, workday", "DH, non-workday", "EL-DEH, workday", "EL-DEH, non-workday",
                "EL-OHH, workday", "EL-OHH, non-workday"]
school_names = ["DH, school day", "DH, no school", "EL-DEH, school day", "EL-DEH, no school",
                "EL-OHH, school day", "EL-OHH, no school"]

# ---------------- styles ----------------
ORANGE = "#FFA500"
DARK = "#3c3c3c"
GREY = "#A5A5A5"
BLUE = "#3D9BF5"
RED = "#FF0000"
GREEN = "#2FC92F"
AXIS = "#9a9a9a"
TEXT = "#262626"
SANS = "Liberation Sans, Arial, sans-serif"

styles = [
    dict(symbol="circle", color=ORANGE, size=7.5, line=dict(width=0)),
    dict(symbol="circle-open", color=DARK, size=7.5, line=dict(width=1, color=DARK)),
    dict(symbol="triangle-up", color=GREY, size=8.5, line=dict(width=0)),
    dict(symbol="triangle-up-open", color=BLUE, size=8.5, line=dict(width=1, color=BLUE)),
    dict(symbol="circle", color=RED, size=4.8, line=dict(width=0)),
    dict(symbol="cross-thin-open", color=GREEN, size=9, line=dict(width=1, color=GREEN)),
]

fig = go.Figure()

office_series = [office_dh_work, office_dh_nonwork, office_el_deh_work, office_el_deh_nonwork,
                 office_el_ohh_work, office_el_ohh_nonwork]
school_series = [school_dh_day, school_dh_noschool, school_el_deh_day, school_el_deh_noschool,
                 school_el_ohh_day, school_el_ohh_noschool]

draw_order = [2, 3, 0, 1, 4, 5]
for i in draw_order:
    pts = office_series[i]
    fig.add_trace(go.Scatter(x=[p[0] for p in pts], y=[p[1] for p in pts], mode="markers",
                             name=office_names[i], marker=styles[i], showlegend=False,
                             xaxis="x", yaxis="y"))
for i in draw_order:
    pts = school_series[i]
    fig.add_trace(go.Scatter(x=[p[0] for p in pts], y=[p[1] for p in pts], mode="markers",
                             name=school_names[i], marker=styles[i], showlegend=False,
                             xaxis="x2", yaxis="y2"))


def px_x(px):
    return px / W


def px_y(py):
    return 1 - py / H


axis_common = dict(showline=True, linecolor=AXIS, linewidth=1, mirror="allticks", ticks="outside",
                   tickcolor=AXIS, tickwidth=1, showgrid=False, zeroline=False,
                   tickfont=dict(family=SANS, size=14, color=TEXT),
                   title_font=dict(family=SANS, size=14, color=TEXT))

fig.update_layout(
    width=W, height=H, margin=dict(l=0, r=0, t=0, b=0),
    paper_bgcolor="white", plot_bgcolor="white",
    font=dict(family=SANS, color=TEXT),
    xaxis=dict(domain=[px_x(45), px_x(515)], range=[-15.1, 24.05], tickvals=x_ticks, ticktext=x_tick_labels,
               anchor="y", ticklen=5,
               title=dict(text="daily mean outdoor temperature [°C]", standoff=3), **axis_common),
    yaxis=dict(domain=[px_y(393), px_y(60)], range=[0, 8.04], tickvals=office_y_ticks, anchor="x",
               ticklen=7, ticklabelstandoff=4,
               title=dict(text="average daily energy consumption [MWh/d]", standoff=2), **axis_common),
    xaxis2=dict(domain=[px_x(623), px_x(1066)], range=[-15, 22.64], tickvals=x_ticks, ticktext=x_tick_labels,
                anchor="y2", ticklen=5,
                title=dict(text="daily mean outdoor temperature [°C]", standoff=3), **axis_common),
    yaxis2=dict(domain=[px_y(393), px_y(60)], range=[0, 9.07], tickvals=school_y_ticks,
                tickformat=".1f", anchor="x2", ticklen=6, ticklabelstandoff=0,
                title=dict(text="average daily energy consumption [MWh/d]", standoff=5), **axis_common),
)

for xr, yr in (("x", "y domain"), ("x2", "y2 domain")):
    fig.add_shape(type="line", xref=xr, yref=yr, x0=threshold_temp, x1=threshold_temp, y0=0, y1=1,
                  line=dict(color="#555555", width=1, dash="dot"), layer="above")

# ---------------- legends (text annotations) ----------------
sym_defs = [("●", ORANGE, 7), ("○", DARK, 9), ("▲", GREY, 7), ("△", BLUE, 8), ("●", RED, 5), ("+", GREEN, 12)]
# (series index, marker px, text px, row py)
legend_office = [(0, 62, 72, 21), (1, 62, 72, 37), (2, 188, 199, 21), (3, 187, 199, 37), (4, 345, 355, 21), (5, 347, 355, 37)]
legend_school = [(0, 654, 665, 21), (1, 654, 665, 37), (2, 769, 780, 21), (3, 769, 780, 37), (4, 917, 927, 21), (5, 917, 927, 37)]

for names, entries in ((office_names, legend_office), (school_names, legend_school)):
    for i, mx, tx, ry in entries:
        s, c, fs = sym_defs[i]
        fig.add_annotation(xref="paper", yref="paper", x=px_x(mx), y=px_y(ry), text=s, showarrow=False,
                           xanchor="center", yanchor="middle",
                           font=dict(family="DejaVu Sans", size=fs, color=c))
        fig.add_annotation(xref="paper", yref="paper", x=px_x(tx), y=px_y(ry), text=names[i], showarrow=False,
                           xanchor="left", yanchor="middle",
                           font=dict(family=SANS, size=13.2, color=TEXT))

# ---------------- captions ----------------
SERIF = "Liberation Serif, Times New Roman, serif"
fig.add_annotation(xref="paper", yref="paper", x=0, y=px_y(458), text="<b>(a)</b> Office buildings",
                   showarrow=False, xanchor="left", yanchor="middle", font=dict(family=SERIF, size=18.5, color="#111"))
fig.add_annotation(xref="paper", yref="paper", x=px_x(589), y=px_y(458), text="<b>(b)</b> Schools",
                   showarrow=False, xanchor="left", yanchor="middle", font=dict(family=SERIF, size=18.5, color="#111"))

fig.write_html("out.html", config={"displayModeBar": False})
